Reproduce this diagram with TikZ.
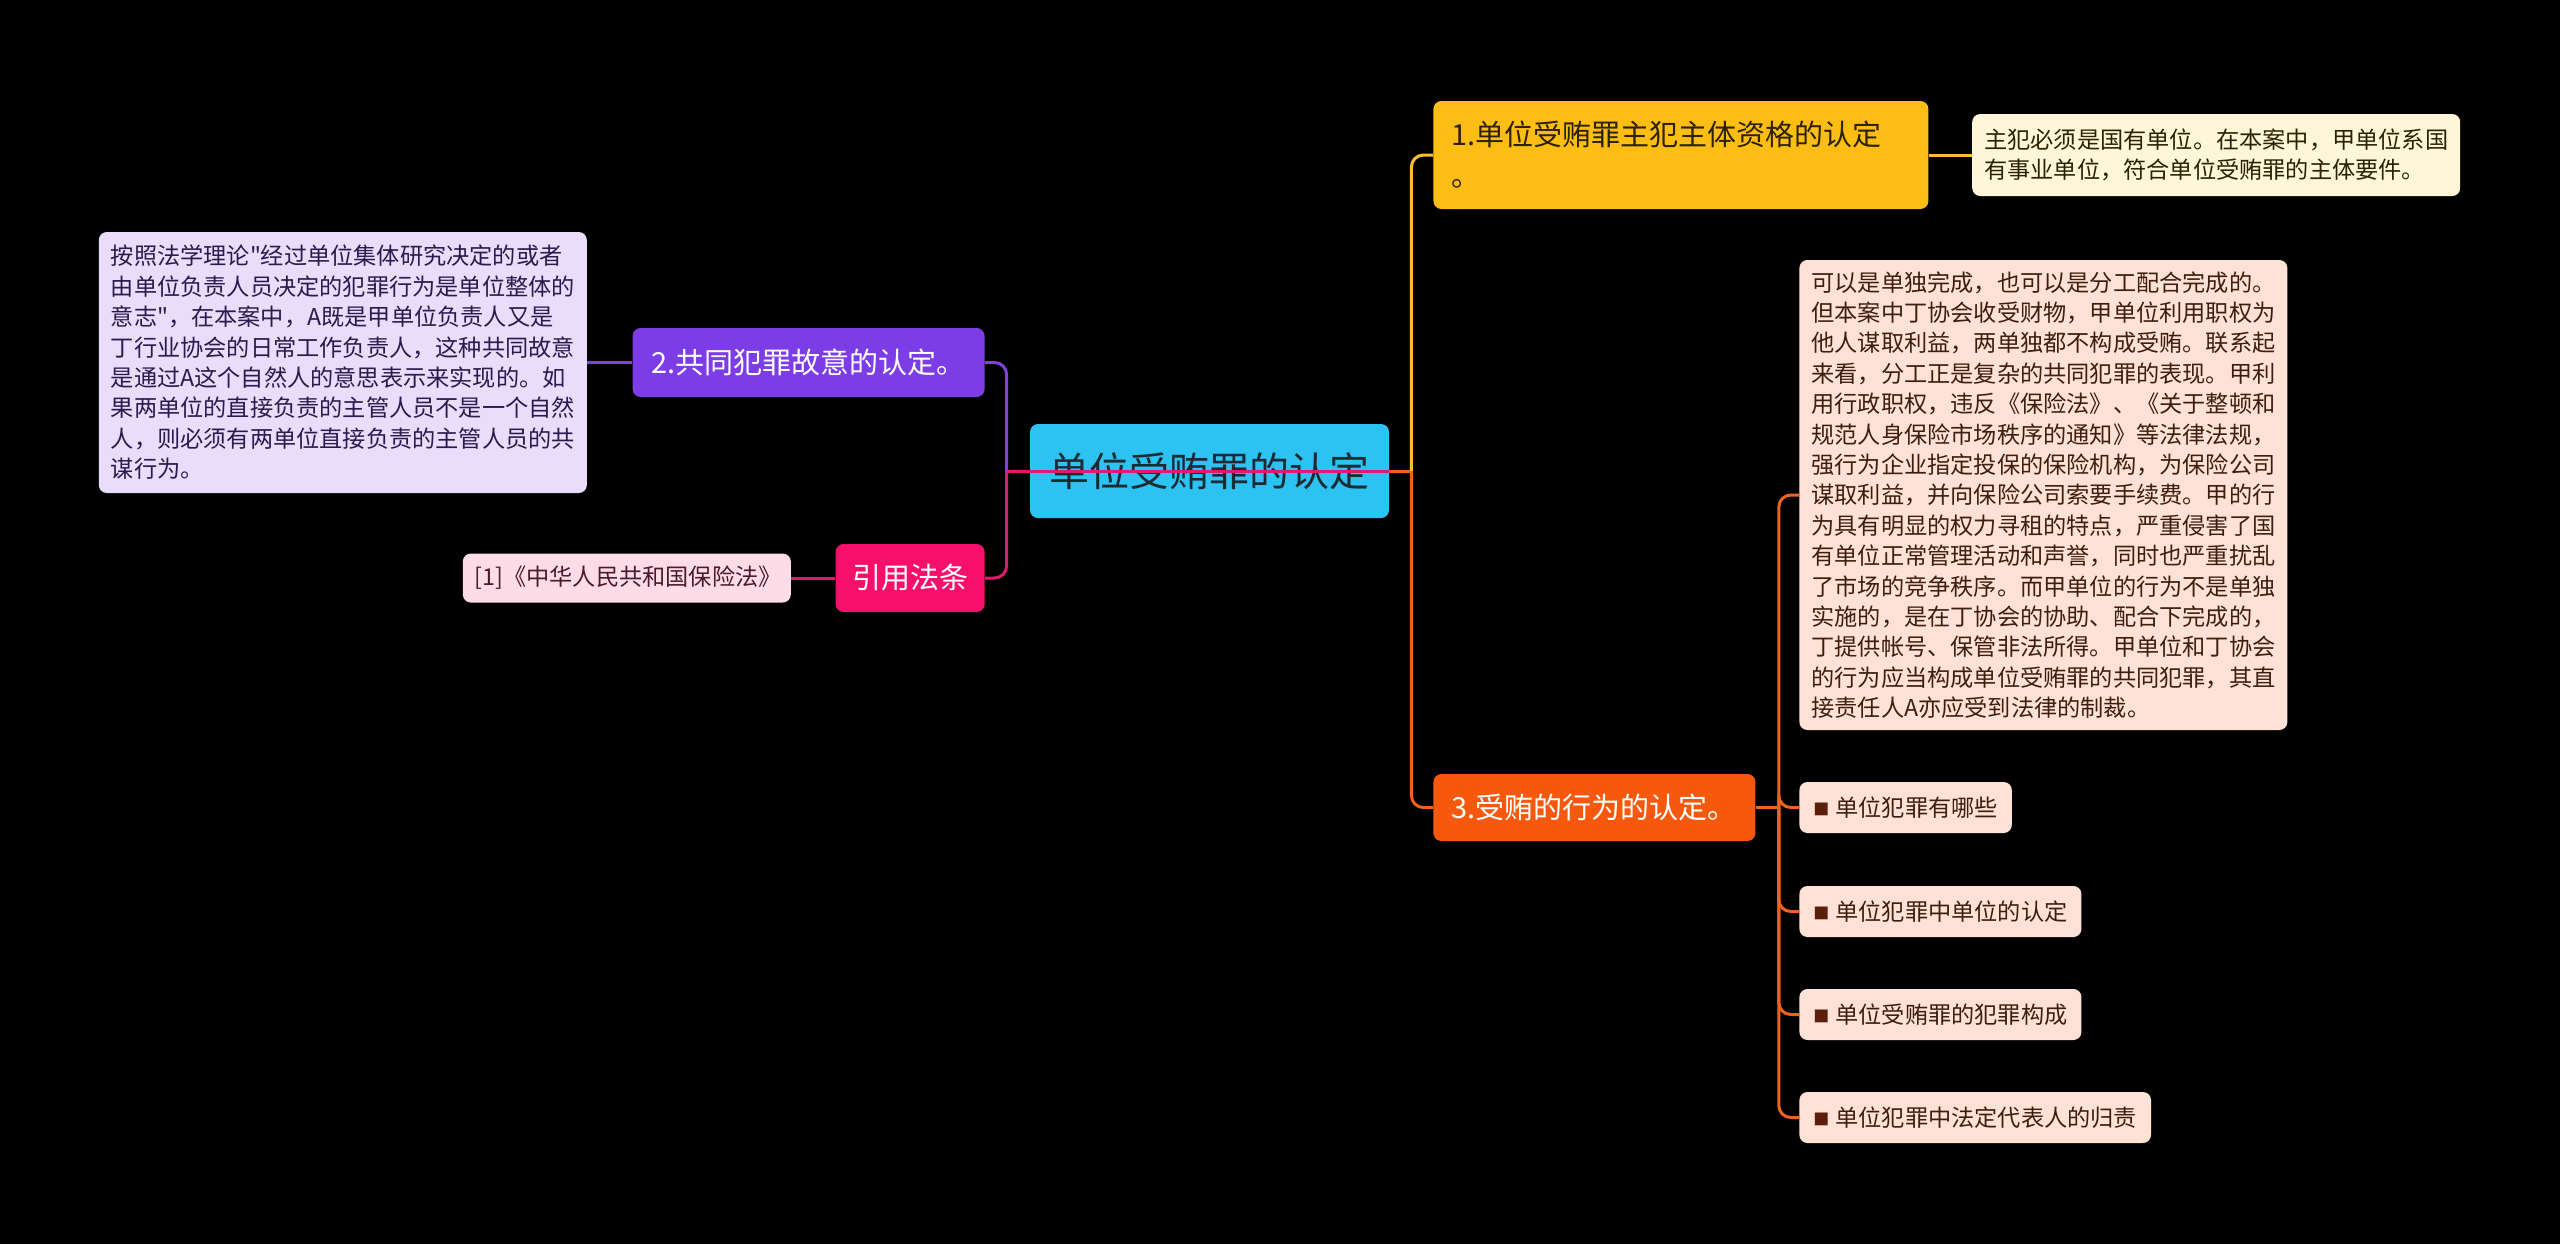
\documentclass[tikz,border=0pt]{standalone}
\usepackage{fontspec}
\setmainfont{Noto Sans CJK SC}[Ligatures=TeXOff]
\usepackage{xcolor}
\usepackage{tikz}
\usetikzlibrary{positioning}

\definecolor{hubfill}{HTML}{2CC3F2}
\definecolor{hubtext}{HTML}{1B2A33}
\definecolor{yelfill}{HTML}{FCBD14}
\definecolor{yeltext}{HTML}{2D2200}
\definecolor{yelnote}{HTML}{FFF5D8}
\definecolor{yelwire}{HTML}{F6C12C}
\definecolor{purfill}{HTML}{7C3DE6}
\definecolor{purnote}{HTML}{E8DDFA}
\definecolor{purtext}{HTML}{2B1A4D}
\definecolor{purwire}{HTML}{7D44D6}
\definecolor{pinkfill}{HTML}{F70F6C}
\definecolor{pinknote}{HTML}{FDDCE8}
\definecolor{pinktext}{HTML}{4A1A2E}
\definecolor{pinkwire}{HTML}{DF1B6C}
\definecolor{orgfill}{HTML}{F6590D}
\definecolor{orgnote}{HTML}{FDE2D5}
\definecolor{orgtext}{HTML}{3D1F10}
\definecolor{orgwire}{HTML}{EC6220}
\definecolor{bulbrown}{HTML}{5A1E0A}

\newcommand{\bul}{\textcolor{bulbrown}{\fontsize{8pt}{8pt}\selectfont\raisebox{0.6pt}{■}}\hspace{3pt}}

\begin{document}
\begin{tikzpicture}[
    x=0.5pt,y=-0.5pt,
    node distance=22pt,
    centre/.style={fill=hubfill,text=hubtext,rounded corners=4pt,minimum width=179.5pt,
                   minimum height=47pt,font=\fontsize{20pt}{24pt}\selectfont},
    topic/.style={rounded corners=4pt,text=white,minimum height=34pt,
                  font=\fontsize{14.5pt}{20.5pt}\selectfont},
    note/.style={rounded corners=4pt,align=left,text width=232pt,inner xsep=6pt,inner ysep=0pt,
                 font=\fontsize{11.6pt}{15.2pt}\selectfont},
    item/.style={rounded corners=4pt,fill=orgnote,text=orgtext,minimum height=25.5pt,
                 inner xsep=7pt,anchor=west,font=\fontsize{11.6pt}{15.2pt}\selectfont},
    wire/.style={line width=1.5pt,rounded corners=6pt}
  ]
  \fill[black] (0,0) rectangle (2560,1244);

  \node[centre] (root) at (1209.5,471) {单位受贿罪的认定};

  \node[topic,fill=yelfill,text=yeltext,anchor=west,minimum width=247.5pt,minimum height=54pt,
        align=left,text width=229.5pt,inner xsep=9pt] (t1) at (1433,155)
        {1.单位受贿罪主犯主体资格的认定\\。};
  \node[note,fill=yelnote,text=yeltext,right=21.5pt of t1,minimum height=41pt] (n1)
        {主犯必须是国有单位。在本案中，甲单位系国\\有事业单位，符合单位受贿罪的主体要件。};

  \node[topic,fill=purfill,anchor=east,minimum width=176pt,minimum height=34.5pt] (t2)
        at (985,362.5) {2.共同犯罪故意的认定。};
  \node[note,fill=purnote,text=purtext,left=22.5pt of t2,minimum height=130.5pt] (n2)
        {按照法学理论"经过单位集体研究决定的或者\\由单位负责人员决定的犯罪行为是单位整体的\\
         意志"，在本案中，A既是甲单位负责人又是\\丁行业协会的日常工作负责人，这种共同故意\\
         是通过A这个自然人的意思表示来实现的。如\\果两单位的直接负责的主管人员不是一个自然\\
         人，则必须有两单位直接负责的主管人员的共\\谋行为。};

  \node[topic,fill=pinkfill,anchor=east,minimum width=74.5pt] (law) at (985,578) {引用法条};
  \node[note,fill=pinknote,text=pinktext,left=22pt of law,text width=152pt,align=center,
        minimum height=24.5pt] (lawref) {[1]《中华人民共和国保险法》};

  \node[topic,fill=orgfill,anchor=west,minimum width=161pt,minimum height=33.5pt] (t3)
        at (1433,807.5) {3.受贿的行为的认定。};
  \node[note,fill=orgnote,text=orgtext,anchor=west,minimum height=235pt] (n3) at (1799,495)
        {可以是单独完成，也可以是分工配合完成的。\\但本案中丁协会收受财物，甲单位利用职权为\\
         他人谋取利益，两单独都不构成受贿。联系起\\来看，分工正是复杂的共同犯罪的表现。甲利\\
         用行政职权，违反《保险法》、《关于整顿和\\规范人身保险市场秩序的通知》等法律法规，\\
         强行为企业指定投保的保险机构，为保险公司\\谋取利益，并向保险公司索要手续费。甲的行\\
         为具有明显的权力寻租的特点，严重侵害了国\\有单位正常管理活动和声誉，同时也严重扰乱\\
         了市场的竞争秩序。而甲单位的行为不是单独\\实施的，是在丁协会的协助、配合下完成的，\\
         丁提供帐号、保管非法所得。甲单位和丁协会\\的行为应当构成单位受贿罪的共同犯罪，其直\\
         接责任人A亦应受到法律的制裁。};
  \node[item] (i1) at (1799,807.5) {\bul 单位犯罪有哪些};
  \node[item] (i2) at (1799,911.5) {\bul 单位犯罪中单位的认定};
  \node[item] (i3) at (1799,1014.5) {\bul 单位受贿罪的犯罪构成};
  \node[item] (i4) at (1799,1117.5) {\bul 单位犯罪中法定代表人的归责};

  \coordinate[right=11pt of root] (rj);
  \coordinate[left=11.5pt of root] (lj);
  \coordinate[right=11.5pt of t3] (tj);

  \draw[wire,purwire] (lj) |- (t2.east);
  \draw[wire,pinkwire] (lj) |- (law.east);
  \draw[wire,pinkwire] (root.east) -- (lj);
  \draw[wire,orgwire] (root.east) -- (rj);
  \draw[wire,yelwire] (rj) |- (t1.west);
  \draw[wire,orgwire] (rj) |- (t3.west);

  \draw[wire,yelwire] (t1) -- (n1);
  \draw[wire,purwire] (t2) -- (n2);
  \draw[wire,pinkwire] (law) -- (lawref);

  \draw[wire,orgwire] (t3.east) -- (tj);
  \draw[wire,orgwire] (tj) |- (n3.west);
  \foreach \i in {1,...,4}
    \draw[wire,orgwire] (tj) |- (i\i.west);
\end{tikzpicture}
\end{document}
